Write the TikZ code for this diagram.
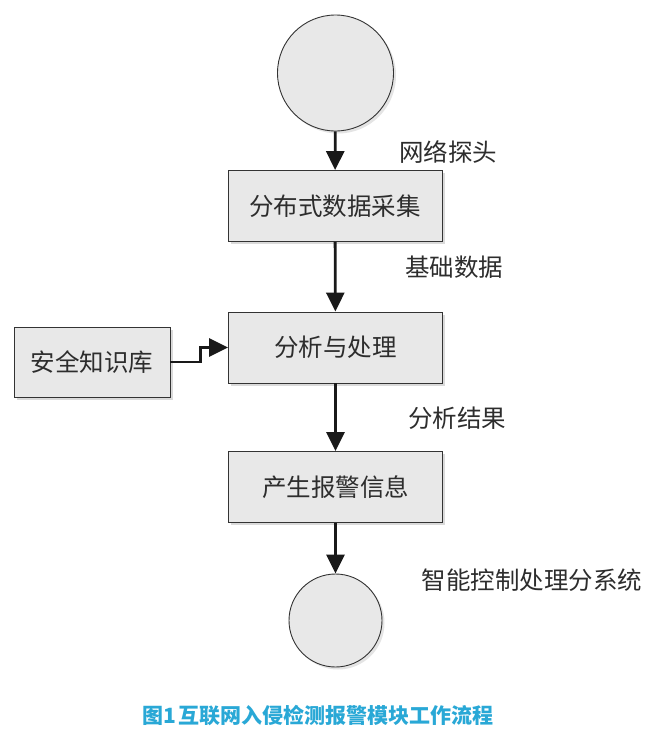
\documentclass[tikz,border=0pt]{standalone}
\usepackage{fontspec}
\setmainfont{Noto Sans CJK SC}
\usetikzlibrary{arrows.meta,shadows}
\definecolor{capblue}{RGB}{41,168,214}
\definecolor{boxfill}{RGB}{232,232,232}
\definecolor{txt}{RGB}{45,45,45}
\tikzset{
  box/.style={draw=black!80, line width=0.9pt, fill=boxfill, minimum width=214pt, minimum height=71pt, inner sep=0pt,
    font=\fontsize{24.5}{29}\selectfont, text=txt,
    drop shadow={shadow xshift=2.5pt, shadow yshift=-2.5pt, fill=black!18, opacity=0.8}},
  circ/.style={circle, draw=black!80, line width=0.9pt, fill=boxfill, inner sep=0pt,
    drop shadow={shadow xshift=2.5pt, shadow yshift=-2.5pt, fill=black!15, opacity=0.7}},
  arr/.style={draw=black!90, line width=2.8pt, -{Triangle[length=19pt,width=18pt]}},
  lbl/.style={font=\fontsize{24.5}{29}\selectfont, text=txt, inner sep=0pt},
}
\begin{document}
\begin{tikzpicture}[x=1pt,y=-1pt]
\useasboundingbox[fill=white] (0,0) rectangle (663,748);
\node[circ, minimum size=116pt] (start) at (335.5,73) {};
\node[box] (b1) at (335,206) {分布式数据采集};
\node[box] (b2) at (335.5,347.5) {分析与处理};
\node[box] (b3) at (335.5,487) {产生报警信息};
\node[circ, minimum size=93pt] (end) at (335.5,620.5) {};
\node[box, minimum width=156pt, minimum height=70pt] (kb) at (92,362) {安全知识库};
\draw[arr] (start) -- (b1);
\draw[arr] (b1) -- (b2);
\draw[arr] (b2) -- (b3);
\draw[arr] (b3) -- (end);
\draw[arr] (kb.east) -- ++(30,0) |- (b2.west);
\node[lbl] (l1) at (448,152) {网络探头};
\node[lbl] (l2) at (454,267) {基础数据};
\node[lbl] (l3) at (457,418) {分析结果};
\node[lbl] (l4) at (532,580) {智能控制处理分系统};
\node[font=\bfseries\fontsize{21}{25}\selectfont, text=capblue, inner sep=0pt] (cap) at (318,715) {图1\hspace{3pt}互联网入侵检测报警模块工作流程};
\end{tikzpicture}
\end{document}
